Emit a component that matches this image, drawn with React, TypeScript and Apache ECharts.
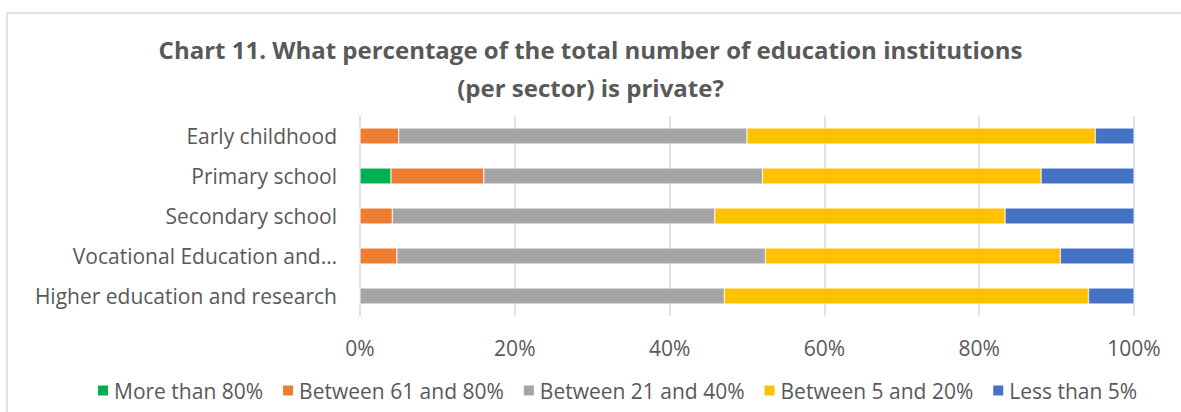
import React, { useEffect, useRef } from "react";
import * as echarts from "echarts";

const categories = [
  "Early childhood",
  "Primary school",
  "Secondary school",
  "Vocational Education and…",
  "Higher education and research",
];
const seriesNames = [
  "More than 80%",
  "Between 61 and 80%",
  "Between 21 and 40%",
  "Between 5 and 20%",
  "Less than 5%",
];
const moreThan80 = [0, 4, 0, 0, 0];
const between61and80 = [5, 12, 4.17, 4.76, 0];
const between21and40 = [45, 36, 41.67, 47.62, 47.06];
const between5and20 = [45, 36, 37.5, 38.1, 47.06];
const lessThan5 = [5, 12, 16.67, 9.52, 5.88];
const seriesData = [moreThan80, between61and80, between21and40, between5and20, lessThan5];
const colors = ["#00B050", "#ED7D31", "#A5A5A5", "#FFC000", "#4472C4"];
const xTicks = [0, 20, 40, 60, 80, 100];

const FONT = "'Open Sans', sans-serif";
const TXT = "#595959";

export default function App() {
  const ref = useRef<HTMLDivElement>(null);
  useEffect(() => {
    if (!ref.current) return;
    const chart = echarts.init(ref.current, undefined, { renderer: "svg" });
    chart.setOption({
      animation: false,
      textStyle: { fontFamily: FONT },
      title: {
        text: "Chart 11. What percentage of the total number of education institutions\n(per sector) is private?",
        left: "center",
        top: 25,
        textStyle: {
          fontFamily: FONT,
          fontSize: 24,
          fontWeight: "bold",
          color: TXT,
          lineHeight: 38,
        },
      },
      graphic: [
        {
          type: "rect",
          shape: { x: 7, y: 13, width: 1200, height: 420 },
          style: { fill: "none", stroke: "#D9D9D9", lineWidth: 1.5 },
          silent: true,
          z: -1,
        },
      ],
      legend: {
        bottom: 6,
        left: 91,
        itemWidth: 12,
        itemHeight: 12,
        itemGap: 18,
        icon: "rect",
        textStyle: { fontFamily: FONT, fontSize: 21, color: TXT },
        data: seriesNames,
      },
      grid: { left: 360, right: 47, top: 116, height: 200, containLabel: false },
      xAxis: {
        type: "value",
        min: 0,
        max: 100,
        interval: 20,
        axisLine: { show: false },
        axisTick: { show: false },
        splitLine: { show: true, lineStyle: { color: "#D9D9D9", width: 1.5 } },
        axisLabel: {
          formatter: (v: number) => (xTicks.includes(v) ? v + "%" : ""),
          fontFamily: FONT,
          fontSize: 21,
          color: TXT,
          margin: 21,
        },
      },
      yAxis: {
        type: "category",
        inverse: true,
        data: categories,
        axisLine: { show: false },
        axisTick: { show: false },
        axisLabel: { fontFamily: FONT, fontSize: 21, color: TXT, margin: 23 },
      },
      series: seriesNames.map((name, i) => ({
        name,
        type: "bar",
        stack: "total",
        barWidth: 16,
        itemStyle: { color: colors[i], borderColor: "#FFFFFF", borderWidth: 0.5 },
        data: seriesData[i],
      })),
    });
    return () => chart.dispose();
  }, []);
  return (
    <div
      ref={ref}
      style={{ position: "fixed", left: 0, top: 0, width: 1181, height: 412, background: "#fff" }}
    />
  );
}
